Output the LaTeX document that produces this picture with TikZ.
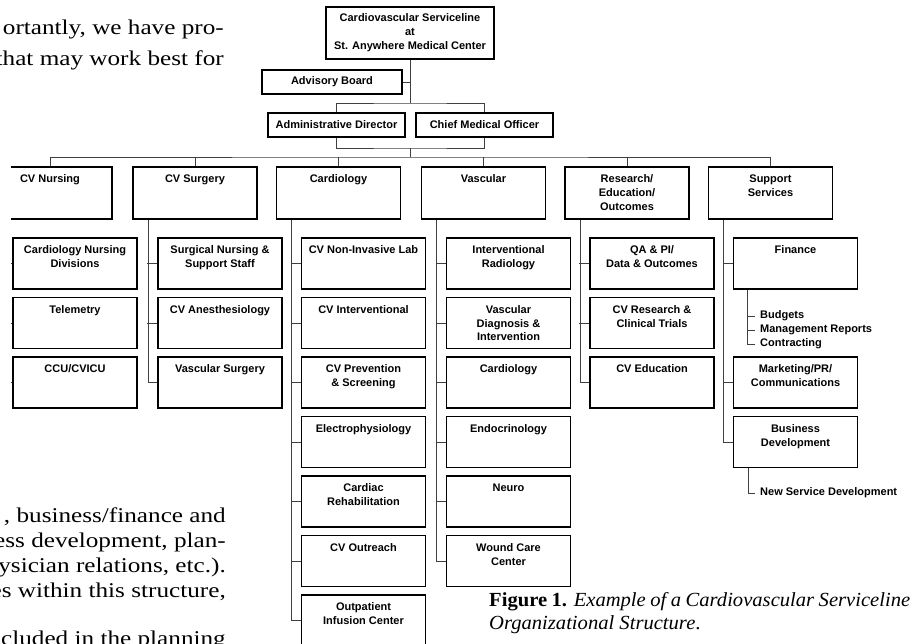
\documentclass[tikz,border=0pt]{standalone}
\usepackage{fontspec}
\setmainfont{Liberation Serif}
\setsansfont{Liberation Sans}
\newfontfamily\bodyfont[FakeStretch=1.2]{Liberation Serif}
\newfontfamily\captfont[FakeStretch=1.03]{Liberation Serif}
\usetikzlibrary{positioning,calc}
% lines of a box label, hung from the first one
\newcommand{\stk}[1]{\begin{tabular}[t]{@{}c@{}}#1\end{tabular}}

\begin{document}
\begin{tikzpicture}[x=1pt, y=-1pt,
    lbl/.style={font=\sffamily\bfseries\fontsize{11}{14}\selectfont},
    head/.style={lbl, align=center, rectangle, draw=black, line width=1.4pt, minimum width=168pt, minimum height=52pt},
    bar/.style={lbl, rectangle, draw=black, line width=1.4pt, minimum height=24pt, inner sep=0pt},
    unit/.style={lbl, rectangle, draw=black, line width=1.4pt, minimum width=124pt, inner xsep=2pt, inner ysep=3pt,
        text height=12.5pt, text depth=33.5pt},
    sub/.style={unit, text depth=32.5pt},
    item/.style={font=\sffamily\bfseries\fontsize{11}{12}\selectfont, anchor=west, inner xsep=5pt, inner ysep=1pt},
    link/.style={line width=0.7pt, draw=black!75},
    body/.style={font=\bodyfont\fontsize{21}{24}\selectfont, anchor=base east, inner sep=0pt},
    capt/.style={font=\captfont\fontsize{20}{23}\selectfont, anchor=base west, inner sep=0pt}
]
\clip (0,0) rectangle (913,644);
\fill[white] (0,0) rectangle (913,644);

% running text beside the figure
\node[body] (t1) at (224,35) {ortantly, we have pro-};
\node[body] (t2) at (224,66) {that may work best for};
\node[body] (t3) at (226,522) {, business/finance and};
\node[body] (t4) at (226,547) {ess development, plan-};
\node[body] (t5) at (226,572) {ysician relations, etc.).};
\node[body] (t6) at (226,597) {es within this structure,};
\node[body] (t7) at (226,645) {ncluded in the planning};

\begin{scope}
\clip (11,0) rectangle (913,644);
% top of the chart
\node[head] (top) at (410,33) {Cardiovascular Serviceline\\at\\St. Anywhere Medical Center};
\node[bar, minimum width=140pt] (adv) at (332,82) {Advisory Board};
\node[bar, minimum width=137pt] (admin) at (336.5,125) {Administrative Director};
\node[bar, minimum width=137pt] (cmo) at (484.5,125) {Chief Medical Officer};
\coordinate (j1) at (410,103);
\coordinate (j2) at (410,148);
\coordinate (j3) at (410,157);

% departments
\node[unit] (nurse) at (50,193) {CV Nursing};
\node[unit] (surg) at (195,193) {CV Surgery};
\node[unit] (cardio) at (338.5,193) {Cardiology};
\node[unit] (vasc) at (483.5,193) {Vascular};
\node[unit] (research) at (627,193) {\stk{Research/\\Education/\\Outcomes}};
\node[unit] (support) at (770.5,193) {\stk{Support\\Services}};

% CV Nursing
\node[sub] (cn1) at (75,263.5) {\stk{Cardiology Nursing\\Divisions}};
\node[sub] (cn2) at (75,323) {Telemetry};
\node[sub] (cn3) at (75,382.5) {CCU/CVICU};
% CV Surgery
\node[sub] (cs1) at (220,263.5) {\stk{Surgical Nursing \&\\Support Staff}};
\node[sub] (cs2) at (220,323) {CV Anesthesiology};
\node[sub] (cs3) at (220,382.5) {Vascular Surgery};
% Cardiology
\node[sub] (ca1) at (363.5,263.5) {CV Non-Invasive Lab};
\node[sub] (ca2) at (363.5,323) {CV Interventional};
\node[sub] (ca3) at (363.5,382.5) {\stk{CV Prevention\\\& Screening}};
\node[sub] (ca4) at (363.5,442) {Electrophysiology};
\node[sub] (ca5) at (363.5,501.5) {\stk{Cardiac\\Rehabilitation}};
\node[sub] (ca6) at (363.5,561) {CV Outreach};
\node[sub] (ca7) at (363.5,620.5) {\stk{Outpatient\\Infusion Center}};
% Vascular
\node[sub] (va1) at (508.5,263.5) {\stk{Interventional\\Radiology}};
\node[sub] (va2) at (508.5,323) {\stk{Vascular\\Diagnosis \&\\Intervention}};
\node[sub] (va3) at (508.5,382.5) {Cardiology};
\node[sub] (va4) at (508.5,442) {Endocrinology};
\node[sub] (va5) at (508.5,501.5) {Neuro};
\node[sub] (va6) at (508.5,561) {\stk{Wound Care\\Center}};
% Research/Education/Outcomes
\node[sub] (re1) at (652,263.5) {\stk{QA \& PI/\\Data \& Outcomes}};
\node[sub] (re2) at (652,323) {\stk{CV Research \&\\Clinical Trials}};
\node[sub] (re3) at (652,382.5) {CV Education};
% Support Services
\node[sub] (su1) at (795.5,263.5) {Finance};
\node[sub] (su3) at (795.5,382.5) {\stk{Marketing/PR/\\Communications}};
\node[sub] (su4) at (795.5,442) {\stk{Business\\Development}};
\node[item] (budg) at (755,316) {Budgets};
\node[item] (mgmt) at (755,330) {Management Reports};
\node[item] (contr) at (755,344) {Contracting};
\node[item] (nsd) at (755,493) {New Service Development};

% connectors
\draw[link] (top.south) -- (j1);
\draw[link] (adv.east) -- (adv.east -| j1);
\draw[link] (admin.north) |- (j1) -| (cmo.north);
\draw[link] (admin.south) |- (j2) -| (cmo.south);
\draw[link] (j2) -- (j3);
\draw[link] (nurse.north) |- (j3) -| (support.north);
\foreach \n in {surg,cardio,vasc,research}
    \draw[link] (\n.north) -- (\n.north |- j3);

\draw[link] ([xshift=-47pt]nurse.south) |- (cn3.west);
\draw[link] ([xshift=-47pt]surg.south) |- (cs3.west);
\draw[link] ([xshift=-47pt]cardio.south) |- (ca7.west);
\draw[link] ([xshift=-47pt]vasc.south) |- (va6.west);
\draw[link] ([xshift=-47pt]research.south) |- (re3.west);
\draw[link] ([xshift=-47pt]support.south) |- (su4.west);
\foreach \b in {cn1,cn2,cs1,cs2,ca1,ca2,ca3,ca4,ca5,ca6,va1,va2,va3,va4,va5,re1,re2,su1,su3}
    \draw[link] (\b.west) -- ++(-10pt,0);

\draw[link] ([xshift=-48pt]su1.south) |- (contr.west);
\draw[link] (budg.west) -- ++(-7pt,0);
\draw[link] (mgmt.west) -- ++(-7pt,0);
\draw[link] ([xshift=-47pt]su4.south) |- (nsd.west);
\end{scope}

% caption
\node[capt] (cap1) at (489,606) {\makebox[421pt][s]{\textbf{Figure 1.} \textit{Example of a Cardiovascular Serviceline}}};
\node[capt] (cap2) at (489,629) {\textit{Organizational Structure}.};
\end{tikzpicture}
\end{document}
